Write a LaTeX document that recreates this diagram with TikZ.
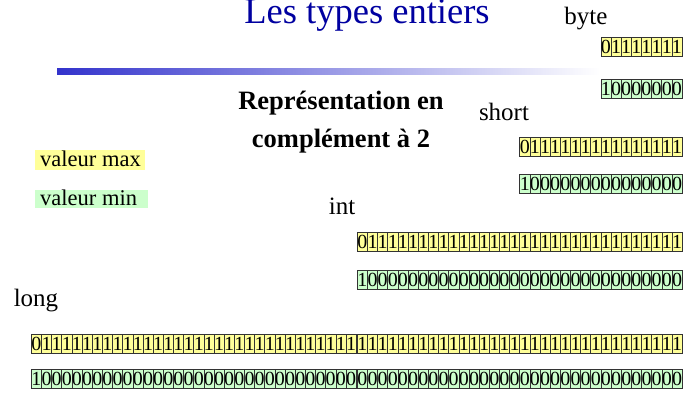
\documentclass[tikz,border=0pt]{standalone}
\usepackage{fontspec}
\setmainfont{Liberation Serif}
\definecolor{titleblue}{RGB}{0,0,160}
\definecolor{barblue}{RGB}{51,51,204}
\definecolor{maxfill}{RGB}{255,255,153}
\definecolor{minfill}{RGB}{204,255,204}
\begin{document}
\begin{tikzpicture}[x=1pt,y=-1pt,
  cell/.style={draw=black!80, line width=0.6pt, minimum width=10.15pt, minimum height=19pt,
    inner sep=0pt, anchor=north west, font=\fontsize{20}{20}\selectfont},
  maxcell/.style={cell, fill=maxfill},
  mincell/.style={cell, fill=minfill},
  typelabel/.style={anchor=base, inner sep=0pt, font=\fontsize{25}{25}\selectfont},
  legend/.style={anchor=base west, inner sep=0pt, font=\fontsize{22.5}{22.5}\selectfont},
  heading/.style={anchor=base, inner sep=0pt, font=\fontsize{26.5}{26.5}\selectfont\bfseries}]
\useasboundingbox (0,0) rectangle (696,393);

% title and rule
\node[anchor=base, inner sep=0pt, text=titleblue, font=\fontsize{36.5}{36.5}\selectfont] (title) at (367,24) {Les types entiers};
\shade[left color=barblue, right color=white] (57,69) rectangle (600,75);

% legend
\fill[maxfill] (35,150) rectangle (145,170);
\node[legend] (lmax) at (40,166) {valeur max};
\fill[minfill] (35,190) rectangle (148,208);
\node[legend] (lmin) at (40,205) {valeur min};

\node[heading] (rep1) at (341,110) {Représentation en};
\node[heading] (rep2) at (341,148) {complément à 2};

% byte
\node[typelabel] (tbyte) at (586,25) {byte};
\foreach \i in {1,...,8}{
  \node[maxcell] (bmax\i) at ({600.5+(\i-1)*10.15},37) {\ifnum\i=1 0\else 1\fi};
  \node[mincell] (bmin\i) at ({600.5+(\i-1)*10.15},79) {\ifnum\i=1 1\else 0\fi};
}
% short
\node[typelabel] (tshort) at (504,121) {short};
\foreach \i in {1,...,16}{
  \node[maxcell] (smax\i) at ({519.4+(\i-1)*10.15},137) {\ifnum\i=1 0\else 1\fi};
  \node[mincell] (smin\i) at ({519.4+(\i-1)*10.15},174) {\ifnum\i=1 1\else 0\fi};
}
% int
\node[typelabel] (tint) at (342,214) {int};
\foreach \i in {1,...,32}{
  \node[maxcell] (imax\i) at ({357+(\i-1)*10.15},232) {\ifnum\i=1 0\else 1\fi};
  \node[mincell] (imin\i) at ({357+(\i-1)*10.15},270) {\ifnum\i=1 1\else 0\fi};
}
% long: two words of 32 bits
\node[typelabel] (tlong) at (36,306) {long};
\foreach \i in {1,...,64}{
  \pgfmathsetmacro\xx{31+(\i-1)*10.15+(\i>32)*1.2}
  \node[maxcell] (lmax\i) at (\xx,334) {\ifnum\i=1 0\else 1\fi};
  \node[mincell] (lmin\i) at (\xx,369) {\ifnum\i=1 1\else 0\fi};
}
\end{tikzpicture}
\end{document}
